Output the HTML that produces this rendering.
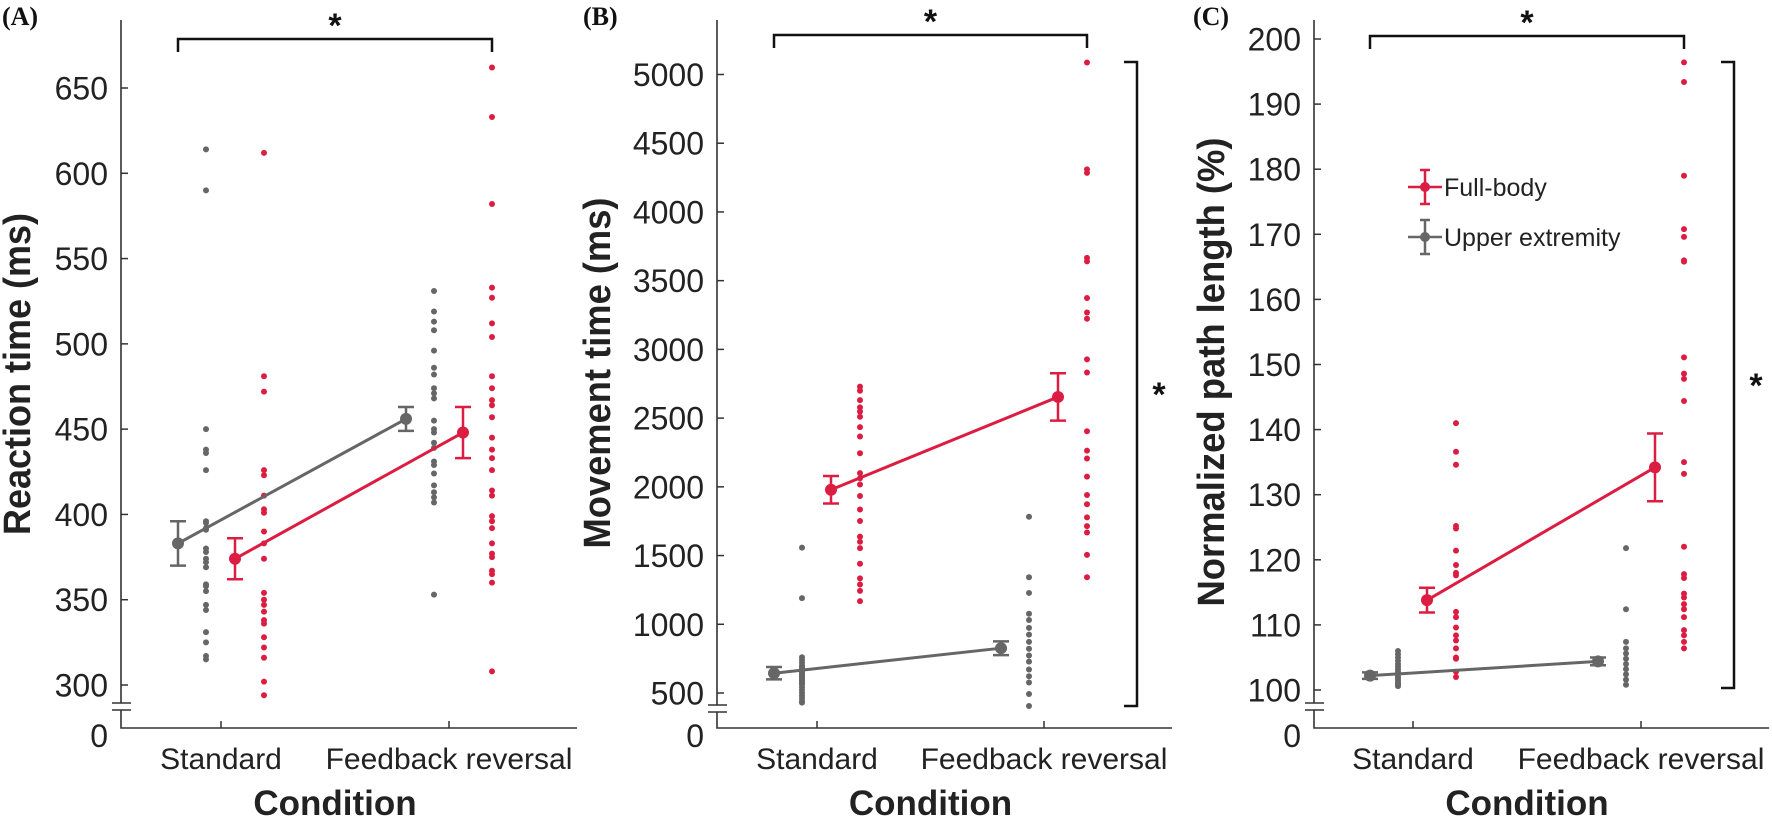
<!DOCTYPE html>
<html><head><meta charset="utf-8"><style>
html,body{margin:0;padding:0;background:#fff;}
svg{display:block;font-family:"Liberation Sans",Arial,sans-serif;}
</style></head><body>
<svg id="fig" width="1772" height="818" viewBox="0 0 1772 818" xmlns="http://www.w3.org/2000/svg"></svg>
<script>
// ---------- Data ----------
const categories = ["Standard", "Feedback reversal"];
// Panel A: reaction time (ms)
const aTicks = [300,350,400,450,500,550,600,650];
const aFullMean = [374, 448];
const aFullErr = [12, 15];
const aUpperMean = [383, 456];
const aUpperErr = [13, 7];
const aFullStd = [612,481,472,426,423,411,403,401,390,383,374,354,350,347,343,338,336,328,322,316,302,294];
const aFullFb = [662,633,582,533,527,512,504,481,474,467,464,457,445,438,433,426,414,411,399,396,392,383,377,375,367,365,360,308];
const aUpperStd = [614,590,450,438,436,426,396,395,392,391,380,378,374,372,369,359,358,355,347,344,331,325,317,315];
const aUpperFb = [531,519,513,508,496,486,482,474,471,468,455,450,448,442,439,431,429,424,417,413,410,407,353];
// Panel B: movement time (ms)
const bTicks = [500,1000,1500,2000,2500,3000,3500,4000,4500,5000];
const bFullMean = [1979, 2654];
const bFullErr = [100, 172];
const bUpperMean = [644, 826];
const bUpperErr = [45, 50];
const bFullStd = [2729,2699,2631,2578,2548,2510,2434,2366,2244,2100,2062,2017,1933,1835,1751,1638,1600,1554,1440,1334,1289,1243,1168];
const bFullFb = [5087,4310,4284,3666,3640,3374,3268,3223,2927,2832,2404,2263,2206,2074,1941,1873,1778,1714,1668,1505,1342];
const bUpperStd = [1558,1190,760,740,720,700,690,680,670,660,650,640,630,620,610,600,590,580,570,560,540,520,500,480,460,440,430];
const bUpperFb = [1782,1342,1228,1077,1031,974,925,872,822,773,728,671,622,576,493,405];
// Panel C: normalized path length (%)
const cTicks = [100,110,120,130,140,150,160,170,180,190,200];
const cFullMean = [113.8, 134.2];
const cFullErr = [1.9, 5.2];
const cUpperMean = [102.2, 104.4];
const cUpperErr = [0.5, 0.6];
const cFullStd = [141,136.6,134.6,125.2,124.8,121.4,119.2,118,117.6,112,111.2,109.6,108.4,107.6,106.4,105,104.8,102.8,102];
const cFullFb = [196.4,193.4,179,170.8,169.6,166,165.8,151.1,148.6,147.8,144.4,135,133.2,122,117.8,117.2,114.8,114.2,113.2,112.4,111.2,109.2,108.4,107.4,106.4];
const cUpperStd = [106,105.5,105,104.5,104,103.6,103.2,102.8,102.4,102,101.8,101.5,101.2,101,100.8,100.6];
const cUpperFb = [121.8,112.4,107.4,106.4,105.6,104.8,104,103.2,102.4,101.6,100.8];

const RED = "#dc1d42", GRAY = "#666666", AX = "#333";
const NS = "http://www.w3.org/2000/svg";
const svg = document.getElementById("fig");
function mk(tag, attrs, parent) {
  const e = document.createElementNS(NS, tag);
  for (const k in attrs) e.setAttribute(k, attrs[k]);
  (parent || svg).appendChild(e);
  return e;
}

function panel(cfg) {
  const g = mk("g", {});
  
  
  const y = v => cfg.yTop + (cfg.vTop - v) / (cfg.vTop - cfg.vBot) * (cfg.yBot - cfg.yTop);
  const x = i => cfg.x0 + i * cfg.dx;
  const axB = 728;
  const yl = mk("path", {d: `M${cfg.axX},20 V${cfg.brk1} M${cfg.axX},${cfg.brk2} V${axB} H${x(1)+128}`, stroke: AX, "stroke-width": 1.6, fill: "none"}, g);
  
  
  const br = mk("path", {d: `M${cfg.axX-9},${cfg.brk1} h19 M${cfg.axX-9},${cfg.brk2} h19`, stroke: AX, "stroke-width": 1.6}, g);
  
  
  const z = mk("text", {x: cfg.axX - 13, y: 747, "text-anchor": "end", "font-size": 32, fill: "#222"}, g);
  z.textContent = "0";
  
  
  cfg.ticks.forEach(t => {
    mk("line", {x1: cfg.axX, x2: cfg.axX + 7, y1: y(t), y2: y(t), stroke: AX, "stroke-width": 1.5}, g);
    const tl = mk("text", {x: cfg.axX - 13, y: y(t) + 11.5, "text-anchor": "end", "font-size": 32, fill: "#222"}, g);
    tl.textContent = t;
    
    
  });
  categories.forEach((c, i) => {
    mk("line", {x1: x(i), x2: x(i), y1: axB, y2: axB - 7, stroke: AX, "stroke-width": 1.5}, g);
    const xl = mk("text", {x: x(i), y: 769, "text-anchor": "middle", "font-size": 30, fill: "#222"}, g);
    xl.textContent = c;
    
    
  });
  const xt = mk("text", {x: (x(0) + x(1)) / 2, y: 815, "text-anchor": "middle", "font-size": 35, "font-weight": "bold", fill: "#222"}, g);
  xt.textContent = "Condition";
  
  
  const yt = mk("text", {x: 0, y: 0, "text-anchor": "middle", "font-size": 38, "font-weight": "bold", fill: "#222",
    textLength: cfg.tLen, lengthAdjust: "spacingAndGlyphs",
    transform: `translate(${cfg.tX + 14},${cfg.tY}) rotate(-90)`}, g);
  yt.textContent = cfg.title;
  
  
  const pl = mk("text", {x: cfg.lblX, y: 25, "font-size": 26, "font-weight": "bold", "font-family": "Liberation Serif, serif", fill: "#111"}, g);
  pl.textContent = cfg.label;
  
  
  const dots = (arr, xi, col, name) => arr.forEach(v => {
    const d = mk("circle", {cx: xi, cy: y(v), r: 3, fill: col}, g);
    
    
  });
  dots(cfg.uStd, x(0) - 15, GRAY, 'upper-dot-standard');
  dots(cfg.fStd, x(0) + 43, RED, 'full-dot-standard');
  dots(cfg.uFb, x(1) - 15, GRAY, 'upper-dot-reversal');
  dots(cfg.fFb, x(1) + 43, RED, 'full-dot-reversal');
  const series = (mean, err, off, col, name) => {
    const ln = mk("line", {x1: x(0) + off, x2: x(1) + off, y1: y(mean[0]), y2: y(mean[1]), stroke: col, "stroke-width": 3}, g);
    
    
    mean.forEach((m, i) => {
      const cx = x(i) + off;
      const eb = mk("path", {d: `M${cx},${y(m+err[i])} V${y(m-err[i])} M${cx-8},${y(m+err[i])} h16 M${cx-8},${y(m-err[i])} h16`, stroke: col, "stroke-width": 2.5, fill: "none"}, g);
      
      
      const mc = mk("circle", {cx: cx, cy: y(m), r: 6, fill: col}, g);
      
      
    });
  };
  series(cfg.uMean, cfg.uErr, -43, GRAY, 'upper-extremity');
  series(cfg.fMean, cfg.fErr, 14, RED, 'full-body');
  const l = x(0) - 43, r = x(1) + 43;
  const tb = mk("path", {d: `M${l},${cfg.brY+13} V${cfg.brY} H${r} V${cfg.brY+13}`, stroke: "#111", "stroke-width": 2.5, fill: "none"}, g);
  
  
  const st = mk("text", {x: (l + r) / 2, y: cfg.brY - 2, "text-anchor": "middle", "font-size": 34, "font-weight": "bold", fill: "#111"}, g);
  st.textContent = "*";
  
  
  if (cfg.vb) {
    const vx = x(1) + 93;
    const vb = mk("path", {d: `M${vx-13},${cfg.vb[0]} H${vx} V${cfg.vb[1]} H${vx-13}`, stroke: "#111", "stroke-width": 2.5, fill: "none"}, g);
    
    
    const vs = mk("text", {x: vx + 22, y: (cfg.vb[0] + cfg.vb[1]) / 2 + 22, "text-anchor": "middle", "font-size": 34, "font-weight": "bold", fill: "#111"}, g);
    vs.textContent = "*";
    
    
  }
}

panel({id: "a", label: "(A)", lblX: 2, axX: 121, x0: 221, dx: 228, yTop: 88, yBot: 685, vTop: 650, vBot: 300,
  brk1: 703, brk2: 710, ticks: aTicks, title: "Reaction time (ms)", tX: 16, tY: 374, tLen: 322,
  fMean: aFullMean, fErr: aFullErr, uMean: aUpperMean, uErr: aUpperErr,
  fStd: aFullStd, fFb: aFullFb, uStd: aUpperStd, uFb: aUpperFb, brY: 39});
panel({id: "b", label: "(B)", lblX: 583, axX: 717, x0: 817, dx: 227, yTop: 74.5, yBot: 693, vTop: 5000, vBot: 500,
  brk1: 705, brk2: 712, ticks: bTicks, title: "Movement time (ms)", tX: 596, tY: 373, tLen: 351,
  fMean: bFullMean, fErr: bFullErr, uMean: bUpperMean, uErr: bUpperErr,
  fStd: bFullStd, fFb: bFullFb, uStd: bUpperStd, uFb: bUpperFb, brY: 35, vb: [62, 706]});
panel({id: "c", label: "(C)", lblX: 1193, axX: 1314, x0: 1413, dx: 228, yTop: 39, yBot: 690, vTop: 200, vBot: 100,
  brk1: 703, brk2: 710, ticks: cTicks, title: "Normalized path length (%)", tX: 1210, tY: 372, tLen: 469,
  fMean: cFullMean, fErr: cFullErr, uMean: cUpperMean, uErr: cUpperErr,
  fStd: cFullStd, fFb: cFullFb, uStd: cUpperStd, uFb: cUpperFb, brY: 36, vb: [62, 688]});

const lg = mk("g", {});


[["Full-body", RED, 187], ["Upper extremity", GRAY, 237]].forEach(([t, c, yy]) => {
  const e = mk("g", {}, lg);
  
  
  mk("path", {d: `M1408,${yy} H1442 M1425,${yy-17} V${yy+17} M1420,${yy-17} h10 M1420,${yy+17} h10`, stroke: c, "stroke-width": 2.5, fill: "none"}, e);
  mk("circle", {cx: 1425, cy: yy, r: 5, fill: c}, e);
  const tx = mk("text", {x: 1444, y: yy + 9, "font-size": 25, fill: "#222"}, e);
  tx.textContent = t;
});
</script>
</body></html>
